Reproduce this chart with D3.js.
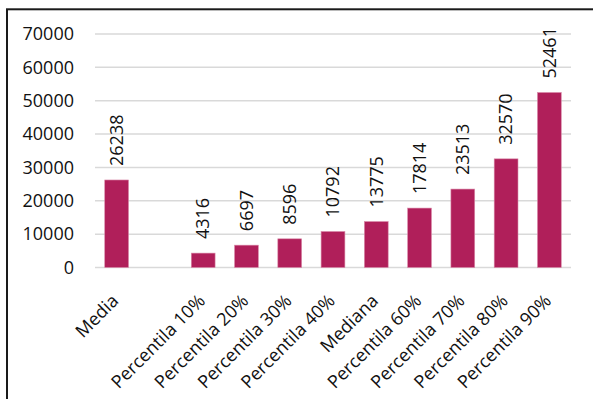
<!DOCTYPE html>
<html>
<head>
<meta charset="utf-8">
<script src="https://cdn.jsdelivr.net/npm/d3@7"></script>
<style>
  html, body { margin: 0; padding: 0; background: #fff; }
  svg { display: block; }
  text { font-family: "Open Sans", "Noto Sans", sans-serif; fill: #111; }
</style>
</head>
<body>
<svg id="chart" width="593" height="399"></svg>
<script>
// Income distribution: mean, percentiles and median
const categories = ["Media", "", "Percentila 10%", "Percentila 20%", "Percentila 30%", "Percentila 40%",
                    "Mediana", "Percentila 60%", "Percentila 70%", "Percentila 80%", "Percentila 90%"];
const values = [26238, null, 4316, 6697, 8596, 10792, 13775, 17814, 23513, 32570, 52461];
const yTicks = [0, 10000, 20000, 30000, 40000, 50000, 60000, 70000];

const svg = d3.select("#chart");
const W = 593, H = 399;
const plot = { left: 95, right: 571, top: 34, bottom: 267.5 };
const barColor = "#b01f5a";
const fontSize = 18;

// outer frame (runs off the right and bottom edges)
svg.append("rect")
  .attr("x", 7).attr("y", 9.3)
  .attr("width", W + 20).attr("height", H + 20)
  .attr("fill", "none").attr("stroke", "#1a1a1a").attr("stroke-width", 2);

const x = d3.scaleBand()
  .domain(d3.range(categories.length))
  .range([plot.left, plot.right])
  .paddingInner(0.45).paddingOuter(0.225);

const y = d3.scaleLinear().domain([0, 70000]).range([plot.bottom, plot.top]);

// gridlines
svg.append("g")
  .selectAll("line").data(yTicks).join("line")
  .attr("x1", plot.left).attr("x2", plot.right)
  .attr("y1", d => y(d)).attr("y2", d => y(d))
  .attr("stroke", "#d9d9d9").attr("stroke-width", 1.5);

// y axis labels
const yAxis = d3.axisLeft(y).tickValues(yTicks).tickSize(0).tickPadding(0).tickFormat(d3.format("d"));
const yg = svg.append("g").attr("transform", `translate(${74},0)`).call(yAxis);
yg.select(".domain").remove();
yg.selectAll("text").attr("font-size", fontSize).attr("fill", "#111")
  .style("font-family", '"Open Sans", "Noto Sans", sans-serif');

const cx = i => x(i) + x.bandwidth() / 2;

const data = categories.map((c, i) => ({ c, i, v: values[i] })).filter(d => d.v !== null);

// bars
svg.append("g").selectAll("rect").data(data).join("rect")
  .attr("x", d => x(d.i))
  .attr("width", x.bandwidth())
  .attr("y", d => y(d.v))
  .attr("height", d => y(0) - y(d.v))
  .attr("fill", barColor)
  .attr("stroke", "#d98aa9").attr("stroke-width", 0.6);

// value labels, rotated
svg.append("g").selectAll("text").data(data).join("text")
  .attr("transform", d => `translate(${cx(d.i)},${y(d.v) - 14}) rotate(-90)`)
  .attr("dy", "0.35em")
  .attr("text-anchor", "start")
  .attr("font-size", fontSize)
  .text(d => d.v);

// category labels, rotated 45 degrees
svg.append("g").selectAll("text").data(categories.map((c, i) => ({ c, i })).filter(d => d.c))
  .join("text")
  .attr("transform", d => `translate(${cx(d.i) + 3},${302}) rotate(-45)`)
  .attr("text-anchor", "end")
  .attr("font-size", fontSize)
  .text(d => d.c);
</script>
</body>
</html>
